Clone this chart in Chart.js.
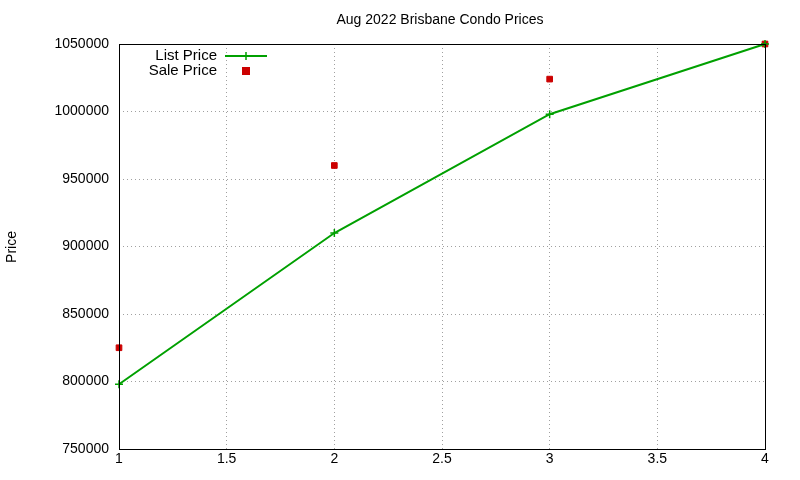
<!DOCTYPE html>
<html><head><meta charset="utf-8">
<script src="https://cdn.jsdelivr.net/npm/chart.js@4"></script>
<style>html,body{margin:0;padding:0;background:#fff}#w{width:800px;height:480px}</style>
</head><body><div id="w"><canvas id="c"></canvas></div>
<script>
const xValues = [1, 2, 3, 4];
const listPrice = [798000, 910000, 998000, 1050000];
const salePrice = [825000, 960000, 1024000, 1050000];
const titleText = 'Aug 2022 Brisbane Condo Prices';
const yTitle = 'Price';
const FONT = '"Liberation Sans", Arial, sans-serif';

const deco = {
  id: 'deco',
  afterDraw(chart) {
    const {ctx, chartArea: a} = chart;
    ctx.save();
    ctx.strokeStyle = '#000'; ctx.lineWidth = 1;
    ctx.strokeRect(a.left + 0.5, a.top + 0.5, a.right - a.left, a.bottom - a.top);
    ctx.fillStyle = '#000';
    ctx.font = '14px ' + FONT;
    ctx.textAlign = 'center'; ctx.textBaseline = 'middle';
    ctx.fillText(titleText, 440, 20);
    ctx.save(); ctx.translate(12, 247); ctx.rotate(-Math.PI / 2);
    ctx.fillText(yTitle, 0, 0); ctx.restore();
    ctx.font = '15px ' + FONT;
    ctx.textAlign = 'right';
    ctx.fillText('List Price', 217, 56);
    ctx.fillText('Sale Price', 217, 71);
    ctx.strokeStyle = '#00a000'; ctx.lineWidth = 2;
    ctx.beginPath(); ctx.moveTo(225, 56); ctx.lineTo(267, 56); ctx.stroke();
    ctx.lineWidth = 1.5;
    ctx.beginPath(); ctx.moveTo(246, 52); ctx.lineTo(246, 60); ctx.moveTo(242, 56); ctx.lineTo(250, 56); ctx.stroke();
    ctx.fillStyle = '#cc0000';
    ctx.fillRect(242, 67, 8, 8);
    ctx.restore();
  }
};

new Chart(document.getElementById('c'), {
  type: 'scatter',
  data: {
    datasets: [
      { label: 'List Price', data: xValues.map((x, i) => ({x, y: listPrice[i]})),
        showLine: true, borderColor: '#00a000', backgroundColor: '#00a000', borderWidth: 2,
        pointStyle: 'crossRot', rotation: 45, pointRadius: 4, pointBorderWidth: 1.5, clip: false },
      { label: 'Sale Price', data: xValues.map((x, i) => ({x, y: salePrice[i]})),
        showLine: false, borderColor: '#cc0000', backgroundColor: '#cc0000',
        pointStyle: 'rect', pointRadius: 4, clip: false }
    ]
  },
  options: {
    responsive: true, maintainAspectRatio: false, animation: false,
    layout: { padding: { left: 0, right: 35, top: 44, bottom: 0 } },
    plugins: { legend: { display: false }, title: { display: false }, tooltip: { enabled: false } },
    scales: {
      x: { type: 'linear', min: 1, max: 4,
        ticks: { stepSize: 0.5, color: '#000', font: { size: 14, family: FONT }, padding: 2,
          callback: v => String(v) },
        grid: { color: '#a0a0a0', drawTicks: false }, border: { display: false, dash: [1, 3] },
        afterFit(s) { s.height = 31; } },
      y: { min: 750000, max: 1050000,
        ticks: { stepSize: 50000, color: '#000', font: { size: 14, family: FONT }, padding: 10,
          callback: v => String(v) },
        grid: { color: '#a0a0a0', drawTicks: false }, border: { display: false, dash: [1, 3] },
        afterFit(s) { s.width = 119; } }
    }
  },
  plugins: [deco]
});
</script></body></html>
